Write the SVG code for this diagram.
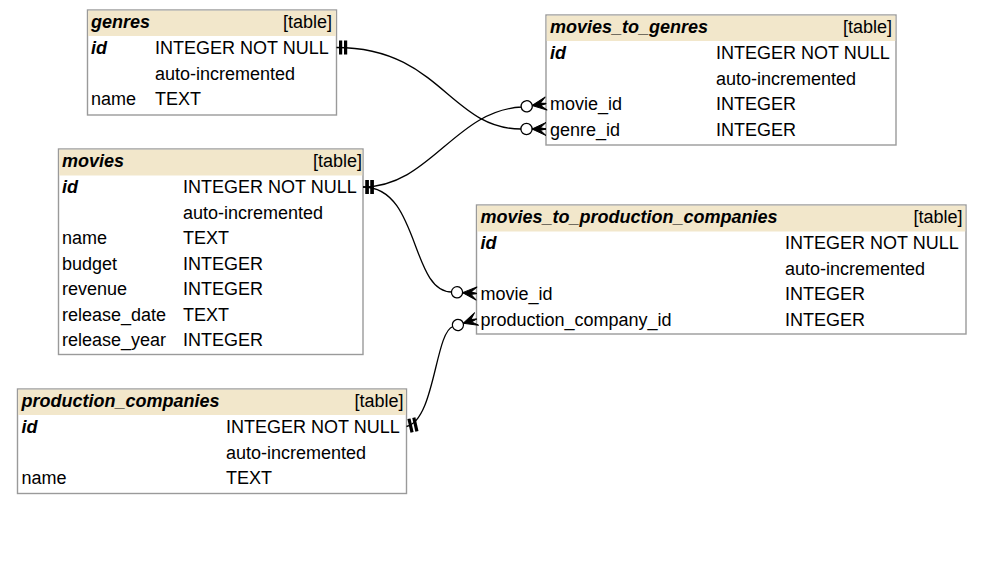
<svg xmlns="http://www.w3.org/2000/svg" width="983" height="568" viewBox="0 0 983 568">
<style>
.box{fill:#fff;stroke:#9a9a9a;stroke-width:1.4}
.hdr{fill:#F2E7CB}
text{font-family:"Liberation Sans",Arial,Helvetica,sans-serif;font-size:18px;fill:#000}
.bi{font-weight:bold;font-style:italic}
.r{text-anchor:end}
.edge{fill:none;stroke:#000;stroke-width:1.3}
</style>
<defs>
<marker id="one" markerUnits="userSpaceOnUse" orient="auto" markerWidth="20" markerHeight="20" refX="0" refY="0" overflow="visible">
<rect x="2.5" y="-7" width="3.2" height="14" fill="#000"/>
<rect x="7.5" y="-7" width="3.2" height="14" fill="#000"/>
</marker>
<marker id="many" markerUnits="userSpaceOnUse" orient="auto" markerWidth="30" markerHeight="20" refX="0" refY="0" overflow="visible">
<polygon points="-14,0 0,-6.5 -5.5,-1.3 0,0 -5.5,1.3 0,6.5" fill="#000" stroke="#000" stroke-width="1" stroke-linejoin="round"/>
<circle cx="-19.5" cy="0" r="5.6" fill="#fff" stroke="#000" stroke-width="1.3"/>
</marker>
</defs>
<rect width="983" height="568" fill="#fff"/>

<g id="genres">
<rect class="box" x="87.5" y="10" width="249" height="105"/>
<rect class="hdr" x="88.2" y="10.7" width="247.6" height="25.3"/>
<text class="bi" x="91" y="27.5">genres</text>
<text class="r" x="332" y="27.5">[table]</text>
<text class="bi" x="91" y="54">id</text>
<text x="155" y="54">INTEGER NOT NULL</text>
<text x="155" y="79.5">auto-incremented</text>
<text x="91" y="105">name</text>
<text x="155" y="105">TEXT</text>
</g>

<g id="movies_to_genres">
<rect class="box" x="546" y="15" width="350" height="130"/>
<rect class="hdr" x="546.7" y="15.7" width="348.6" height="25.3"/>
<text class="bi" x="550" y="32.5">movies_to_genres</text>
<text class="r" x="892" y="32.5">[table]</text>
<text class="bi" x="550" y="59">id</text>
<text x="716" y="59">INTEGER NOT NULL</text>
<text x="716" y="84.5">auto-incremented</text>
<text x="550" y="110">movie_id</text>
<text x="716" y="110">INTEGER</text>
<text x="550" y="135.5">genre_id</text>
<text x="716" y="135.5">INTEGER</text>
</g>

<g id="movies">
<rect class="box" x="58.5" y="149" width="304.5" height="205.5"/>
<rect class="hdr" x="59.2" y="149.7" width="303.1" height="25.8"/>
<text class="bi" x="62" y="166.5">movies</text>
<text class="r" x="362" y="166.5">[table]</text>
<text class="bi" x="62" y="193">id</text>
<text x="183" y="193">INTEGER NOT NULL</text>
<text x="183" y="218.5">auto-incremented</text>
<text x="62" y="244">name</text>
<text x="183" y="244">TEXT</text>
<text x="62" y="269.5">budget</text>
<text x="183" y="269.5">INTEGER</text>
<text x="62" y="295">revenue</text>
<text x="183" y="295">INTEGER</text>
<text x="62" y="320.5">release_date</text>
<text x="183" y="320.5">TEXT</text>
<text x="62" y="346">release_year</text>
<text x="183" y="346">INTEGER</text>
</g>

<g id="movies_to_production_companies">
<rect class="box" x="476.5" y="205" width="489.5" height="129"/>
<rect class="hdr" x="477.2" y="205.7" width="488.1" height="25.8"/>
<text class="bi" x="480.5" y="222.5">movies_to_production_companies</text>
<text class="r" x="962.5" y="222.5">[table]</text>
<text class="bi" x="480.5" y="249">id</text>
<text x="785" y="249">INTEGER NOT NULL</text>
<text x="785" y="274.5">auto-incremented</text>
<text x="480.5" y="300">movie_id</text>
<text x="785" y="300">INTEGER</text>
<text x="480.5" y="325.5">production_company_id</text>
<text x="785" y="325.5">INTEGER</text>
</g>

<g id="production_companies">
<rect class="box" x="17.5" y="389" width="389" height="104.5"/>
<rect class="hdr" x="18.2" y="389.7" width="387.6" height="25.3"/>
<text class="bi" x="21.5" y="406.5">production_companies</text>
<text class="r" x="403.5" y="406.5">[table]</text>
<text class="bi" x="21.5" y="433">id</text>
<text x="226" y="433">INTEGER NOT NULL</text>
<text x="226" y="458.5">auto-incremented</text>
<text x="21.5" y="484">name</text>
<text x="226" y="484">TEXT</text>
</g>

<g id="connectors">
<path class="edge" marker-start="url(#one)" marker-end="url(#many)" d="M336.5,47.5 C440,47.5 450,129 521,129 L546,129"/>
<path class="edge" marker-start="url(#one)" marker-end="url(#many)" d="M363,187 C430,187 455,110 522,107 L546,103.5"/>
<path class="edge" marker-start="url(#one)" marker-end="url(#many)" d="M363,187 C420,187 410,292 452,292 L476.5,293.5"/>
<path class="edge" marker-start="url(#one)" marker-end="url(#many)" d="M406.5,426.5 C435,420 435,332 453,326.5 L476.5,319"/>
</g>
</svg>
